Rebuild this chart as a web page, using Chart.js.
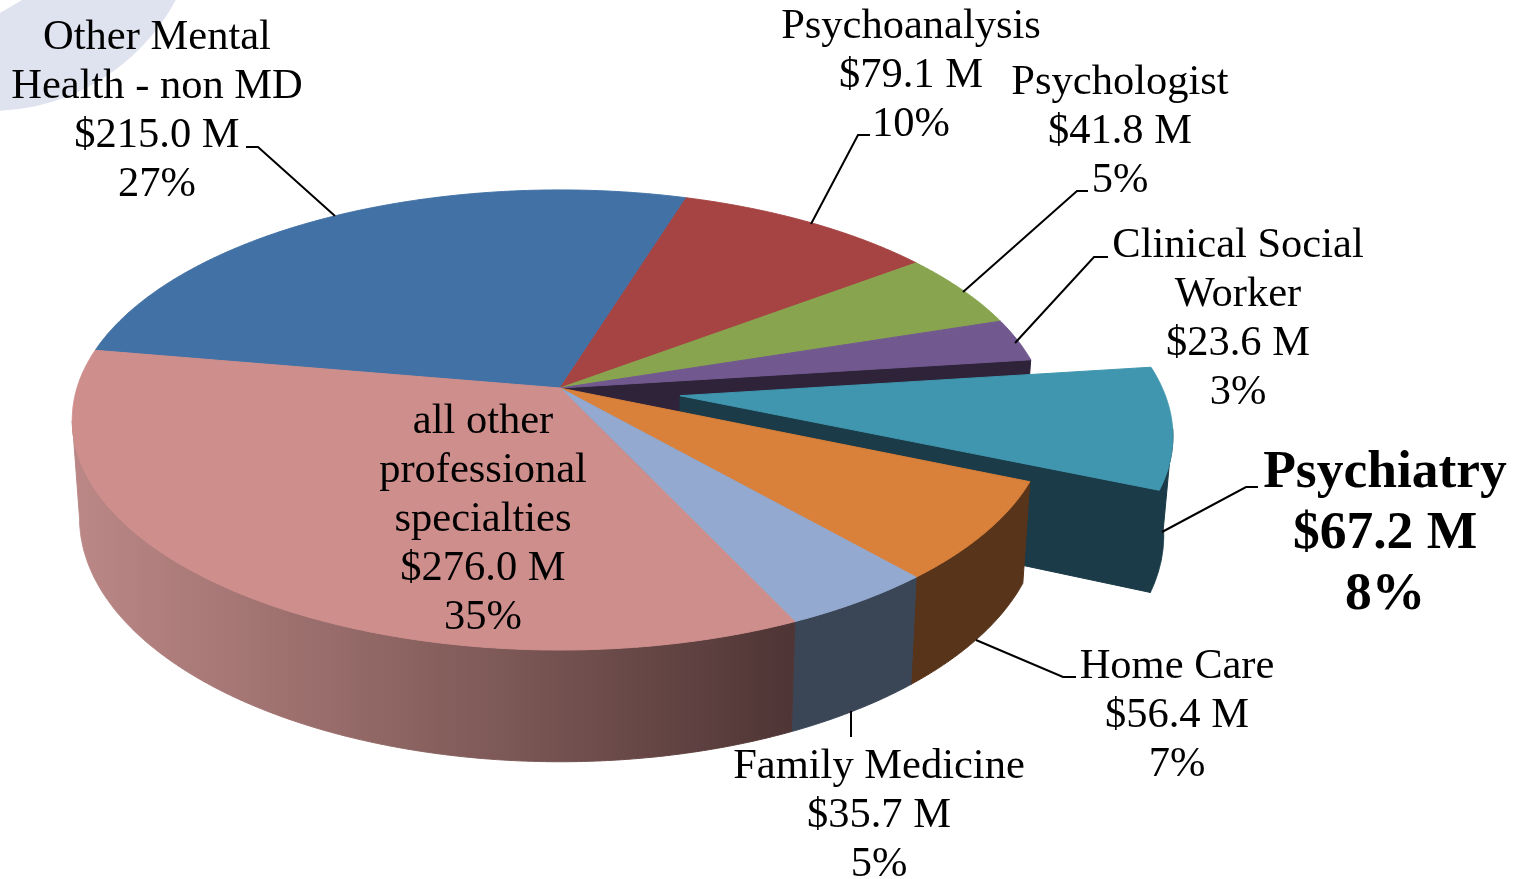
<!DOCTYPE html>
<html>
<head>
<meta charset="utf-8">
<style>html,body{margin:0;padding:0;background:#fff}canvas{display:block}</style>
<script src="https://cdn.jsdelivr.net/npm/chart.js@4"></script>
</head>
<body>
<canvas id="c" width="1530" height="879"></canvas>
<script>
// ---- data ----
const categories = ['Other Mental Health - non MD','Psychoanalysis','Psychologist','Clinical Social Worker','Psychiatry','Home Care','Family Medicine','all other professional specialties'];
const spendMillions = [215.0,79.1,41.8,23.6,67.2,56.4,35.7,276.0];
const valueLabels = ['$215.0 M','$79.1 M','$41.8 M','$23.6 M','$67.2 M','$56.4 M','$35.7 M','$276.0 M'];
const percentLabels = ['27%','10%','5%','3%','8%','7%','5%','35%'];
const nameLines = [['Other Mental','Health - non MD'],['Psychoanalysis'],['Psychologist'],['Clinical Social','Worker'],['Psychiatry'],['Home Care'],['Family Medicine'],['all other','professional','specialties']];
// ---- styles ----
const topColors = ['#4271a5','#a64443','#88a44e','#71588f','#3f96ae','#d9803a','#93a9cf','#ce8e8c'];
const wallColors = ['#27425f','#5e2625','#4d5d2c','#2e2339','#1a3b47','#58341a','#3a4556','#503637'];
// ---- layout ----
const labelCenterX = [157,911,1120,1238,1385,1177,879,483];
const labelFirstBaseline = [49,38,94,257,487,678,778,433];
const emphasised = 4;
const leaders = [
  [[246,147],[258,147],[335,216]],
  [[870,135],[858,135],[811,224]],
  [[1088,191],[1077,191],[963,292]],
  [[1108,257],[1094,257],[1015,343]],
  [[1258,487],[1246,487],[1162,532]],
  [[1076,677],[1063,677],[976,640]],
  [[851,711],[851,737]]
];
const explodedIndex = 4, explodeU = 0.2475, explodeV = 0.034;
const xScale = 483/388, yScale = 225.6/388, persp = 0.139;
const lowerX = 0.985, lowerY = 1.06, lowerDrop = 96;

function project(el,u,v,lower){
  const w = 1 - persp*v;
  const X = el.outerRadius*xScale*u/w, Y = el.outerRadius*yScale*v/w;
  return lower ? [el.x+lowerX*X, el.y+lowerDrop+lowerY*Y] : [el.x+X, el.y+Y];
}
function poly(ctx,pts,fill){
  ctx.beginPath();
  pts.forEach((p,i)=> i?ctx.lineTo(p[0],p[1]):ctx.moveTo(p[0],p[1]));
  ctx.closePath();
  ctx.fillStyle = fill; ctx.strokeStyle = fill; ctx.lineWidth = 1;
  ctx.fill(); ctx.stroke();
}
const STEP = Math.PI/720;
function shift(i){ return i===explodedIndex ? [explodeU,explodeV] : [0,0]; }
function drawTop(ctx,el,i){
  const [du,dv] = shift(i), pts = [project(el,du,dv,false)];
  for(let a=el.startAngle;;a+=STEP){
    const t = Math.min(a,el.endAngle);
    pts.push(project(el,Math.cos(t)+du,Math.sin(t)+dv,false));
    if(t>=el.endAngle) break;
  }
  poly(ctx,pts,topColors[i]);
}
function drawWall(ctx,el,i,fill){
  const [du,dv] = shift(i), up=[], low=[];
  for(let a=el.startAngle;;a+=STEP){
    const t = Math.min(a,el.endAngle);
    if(Math.sin(t)>persp){
      up.push(project(el,Math.cos(t)+du,Math.sin(t)+dv,false));
      low.unshift(project(el,Math.cos(t)+du,Math.sin(t)+dv,true));
    }
    if(t>=el.endAngle) break;
  }
  if(up.length) poly(ctx,up.concat(low),fill);
}
function drawCut(ctx,el,i){
  const [du,dv] = shift(i), a = el.endAngle;
  const c = Math.cos(a)+du, s = Math.sin(a)+dv;
  poly(ctx,[project(el,du,dv,false),project(el,c,s,false),project(el,c,s,true),project(el,du,dv,true)],wallColors[i]);
}

const decoration = {
  id:'decoration',
  beforeDraw(chart){
    const ctx = chart.ctx;
    ctx.save();
    ctx.fillStyle = '#fff'; ctx.fillRect(0,0,chart.width,chart.height);
    ctx.beginPath(); ctx.rect(0,0,chart.width,chart.height); ctx.clip();
    ctx.fillStyle = '#dfe2ef';
    ctx.beginPath(); ctx.arc(-10,-100,211,0,Math.PI*2); ctx.fill();
    ctx.fillStyle = '#fff';
    ctx.beginPath(); ctx.moveTo(0,0); ctx.lineTo(22,0); ctx.lineTo(0,13); ctx.closePath(); ctx.fill();
    ctx.restore();
  }
};
const pie3d = {
  id:'pie3d',
  beforeDatasetsDraw(chart){
    const ctx = chart.ctx, arcs = chart.getDatasetMeta(0).data;
    ctx.save();
    // back half, furthest first
    drawCut(ctx,arcs[explodedIndex-1],explodedIndex-1);
    for(let i=0;i<explodedIndex;i++) drawTop(ctx,arcs[i],i);
    // pulled-out slice
    drawWall(ctx,arcs[explodedIndex],explodedIndex,wallColors[explodedIndex]);
    drawCut(ctx,arcs[explodedIndex],explodedIndex);
    drawTop(ctx,arcs[explodedIndex],explodedIndex);
    // front walls
    const g = ctx.createLinearGradient(80,0,790,0);
    g.addColorStop(0,'#ba8786'); g.addColorStop(.33,'#9a6e6c'); g.addColorStop(.6,'#7c5856'); g.addColorStop(1,'#4f3535');
    for(let i=explodedIndex+1;i<arcs.length;i++) drawWall(ctx,arcs[i],i,i===arcs.length-1?g:wallColors[i]);
    for(let i=explodedIndex+1;i<arcs.length;i++) drawTop(ctx,arcs[i],i);
    ctx.restore();
    return false;
  },
  afterDraw(chart){
    const ctx = chart.ctx;
    ctx.save();
    ctx.strokeStyle = '#000'; ctx.lineWidth = 2;
    leaders.forEach(l=>{
      ctx.beginPath();
      l.forEach((p,i)=> i?ctx.lineTo(p[0],p[1]):ctx.moveTo(p[0],p[1]));
      ctx.stroke();
    });
    ctx.fillStyle = '#000'; ctx.textAlign = 'center'; ctx.textBaseline = 'alphabetic';
    categories.forEach((_,i)=>{
      const big = i===emphasised;
      ctx.font = (big?'bold 53.5px':'42.5px')+' "Liberation Serif"';
      const step = big?61:49;
      nameLines[i].concat([valueLabels[i],percentLabels[i]]).forEach((t,n)=>{
        ctx.fillText(t,labelCenterX[i],labelFirstBaseline[i]+n*step);
      });
    });
    ctx.restore();
  }
};
new Chart(document.getElementById('c'),{
  type:'pie',
  data:{labels:categories,datasets:[{data:spendMillions,backgroundColor:topColors,borderWidth:0}]},
  options:{
    responsive:false,animation:false,rotation:279.85,
    layout:{padding:{left:0,top:0,right:410,bottom:103}},
    plugins:{legend:{display:false},tooltip:{enabled:false}}
  },
  plugins:[decoration,pie3d]
});
</script>
</body>
</html>
